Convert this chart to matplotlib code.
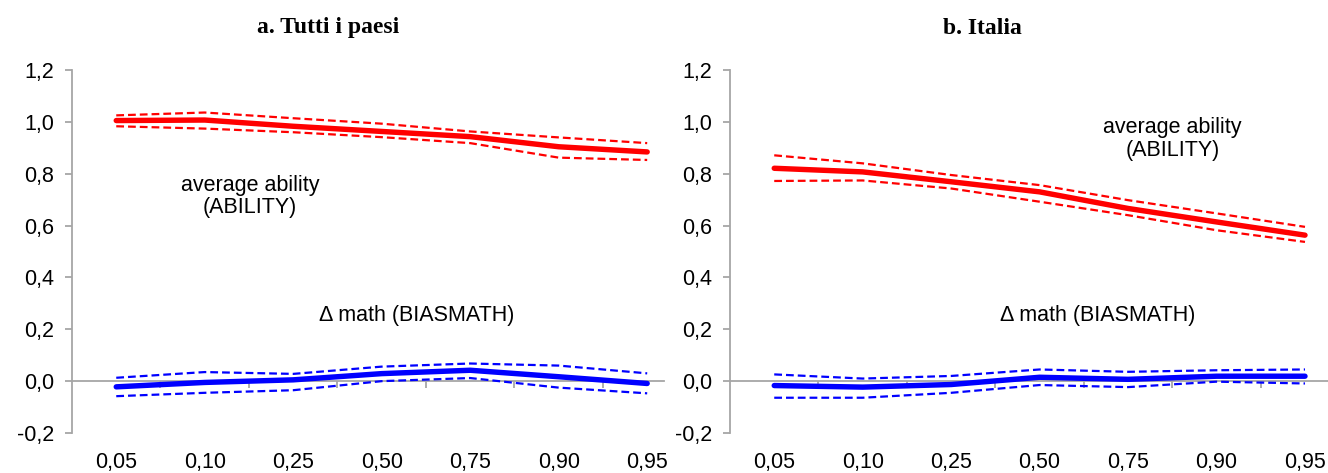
import matplotlib
matplotlib.use("Agg")
import matplotlib.pyplot as plt
from matplotlib.ticker import FixedLocator, FuncFormatter

categories = ["0,05", "0,10", "0,25", "0,50", "0,75", "0,90", "0,95"]

# a. Tutti i paesi
all_ability = [1.005, 1.007, 0.983, 0.963, 0.943, 0.904, 0.884]
all_ability_hi = [1.025, 1.036, 1.014, 0.993, 0.963, 0.940, 0.918]
all_ability_lo = [0.983, 0.974, 0.960, 0.941, 0.918, 0.862, 0.853]
all_bias = [-0.022, -0.005, 0.005, 0.029, 0.042, 0.017, -0.009]
all_bias_hi = [0.013, 0.035, 0.028, 0.056, 0.068, 0.060, 0.030]
all_bias_lo = [-0.058, -0.045, -0.035, 0.000, 0.012, -0.025, -0.047]

# b. Italia
it_ability = [0.821, 0.807, 0.769, 0.730, 0.666, 0.614, 0.563]
it_ability_hi = [0.871, 0.840, 0.795, 0.756, 0.698, 0.647, 0.595]
it_ability_lo = [0.772, 0.774, 0.743, 0.692, 0.640, 0.582, 0.537]
it_bias = [-0.017, -0.023, -0.013, 0.015, 0.007, 0.019, 0.019]
it_bias_hi = [0.026, 0.010, 0.020, 0.045, 0.036, 0.042, 0.045]
it_bias_lo = [-0.064, -0.064, -0.045, -0.015, -0.023, -0.002, -0.009]

titles = ["a. Tutti i paesi", "b. Italia"]
ability_label = "average ability\n(ABILITY)"
bias_label = "Δ math (BIASMATH)"

yticks = [-0.2, 0.0, 0.2, 0.4, 0.6, 0.8, 1.0, 1.2]

SANS = "Liberation Sans"
GREY = "#a6a6a6"
FS = 15.5

fig = plt.figure(figsize=(13.28, 4.73), dpi=100)

W, H = 1328, 473
panels = [
    dict(left=72, right=664, xmax=6.19, data=(all_ability, all_ability_hi, all_ability_lo,
                                              all_bias, all_bias_hi, all_bias_lo),
         abil_pos=(1.51, 0.712), bias_pos=(3.39, 0.253), title_x=328),
    dict(left=730, right=1328, xmax=6.26, data=(it_ability, it_ability_hi, it_ability_lo,
                                                it_bias, it_bias_hi, it_bias_lo),
         abil_pos=(4.5, 0.934), bias_pos=(3.66, 0.253), title_x=982),
]

top_px, bot_px = 70, 433
x = list(range(len(categories)))

for i, p in enumerate(panels):
    ax = fig.add_axes([p["left"] / W, 1 - bot_px / H, (p["right"] - p["left"]) / W,
                       (bot_px - top_px) / H])
    ax.set_facecolor("none")
    ab, ab_hi, ab_lo, bi, bi_hi, bi_lo = p["data"]
    ax.plot(x, ab_hi, color="#ff0000", lw=1.6, dashes=(3.5, 1.8), clip_on=False)
    ax.plot(x, ab_lo, color="#ff0000", lw=1.6, dashes=(3.5, 1.8), clip_on=False)
    ax.plot(x, ab, color="#ff0000", lw=3.9, solid_capstyle="round", clip_on=False)
    ax.plot(x, bi_hi, color="#0000ff", lw=1.6, dashes=(3.5, 1.8), clip_on=False)
    ax.plot(x, bi_lo, color="#0000ff", lw=1.6, dashes=(3.5, 1.8), clip_on=False)
    ax.plot(x, bi, color="#0000ff", lw=3.9, solid_capstyle="round", clip_on=False)

    ax.set_xlim(-0.5, p["xmax"])
    ax.set_ylim(-0.2, 1.2)

    for s in ["top", "right"]:
        ax.spines[s].set_visible(False)
    ax.spines["bottom"].set_visible(False)
    ax.spines["left"].set_color(GREY)
    ax.spines["left"].set_linewidth(1.3)

    ax.yaxis.set_major_locator(FixedLocator(yticks))
    ax.yaxis.set_major_formatter(FuncFormatter(lambda v, pos: f"{v:.1f}".replace(".", ",").replace("-0,0", "0,0")))
    ax.tick_params(axis="y", direction="out", length=5, width=1.3, color=GREY,
                   pad=8, labelsize=FS, labelfontfamily=SANS)

    ax.set_xticks(x)
    ax.set_xticklabels(categories)
    ax.tick_params(axis="x", length=0, pad=14, labelsize=FS, labelfontfamily=SANS)

    # horizontal category axis crossing at zero
    sec = ax.secondary_xaxis(0.2 / 1.4)
    sec.set_xticks([k + 0.5 for k in x])
    sec.set_xticklabels([])
    sec.tick_params(axis="x", direction="out", length=5, width=1.3, color=GREY)
    sec.spines["bottom"].set_color(GREY)
    sec.spines["bottom"].set_linewidth(1.3)

    ax.text(*p["abil_pos"], ability_label, ha="center", va="center", fontsize=FS,
            family=SANS, linespacing=1.12)
    ax.text(*p["bias_pos"], bias_label, ha="center", va="center", fontsize=FS,
            family=SANS)

    fig.text(p["title_x"] / W, 1 - 28 / H, titles[i], ha="center", va="center",
             fontsize=17, fontweight="bold", family="Liberation Serif")

fig.savefig("out.png", dpi=100)
